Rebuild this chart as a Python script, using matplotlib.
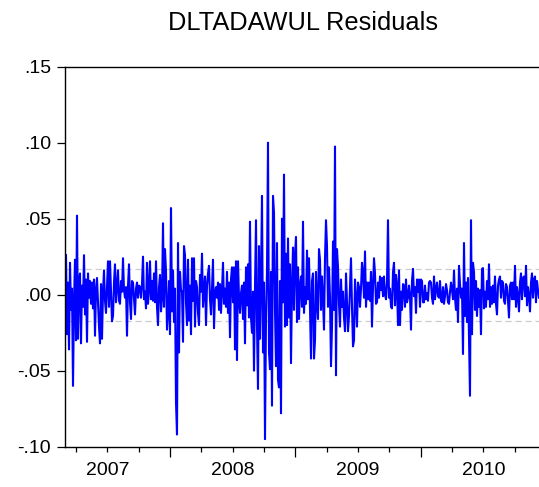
import numpy as np
import matplotlib
matplotlib.use("Agg")
import matplotlib.pyplot as plt

plt.rcParams["font.family"] = ["Liberation Sans", "DejaVu Sans"]

TITLE = "DLTADAWUL Residuals"

# residuals in percentage points, one observation per step of the time grid
resid_2007a = [
    2.6, -2.6, 0.8, -3.6, 2.1, -1.0, 0.4, -6.0, -0.5, 2.3,
    -3.0, 5.2, -2.9, 1.0, 1.4, -3.2, 0.6, -0.8, 2.6, -1.3,
    1.0, -3.1, 1.4, -0.2, 0.9, -0.6, 0.8, -0.9, 1.0, -2.7,
    0.3, 1.1, -0.5, -2.1, -3.2, 0.7, -2.9, 0.2, 1.6, -0.4,
    -1.2, 0.6, 2.2, -0.8, 2.2, 0.3, -1.75, -1.4, 0.8, 2.0,
    -0.5, 0.6, 1.6, -0.4, -0.6, 0.9, 0.2, 2.4, 0.3, -0.2,
    0.5, -2.7, 0.6, 2.0, -0.5, -1.6, 0.9, 0.8, -0.3, -1.3,
    0.4, 0.8, -0.2, 0.6, 0.5, -0.2, 0.7, 2.5, -0.3, 0.2,
]
resid_2007b = [
    -0.9, 2.1, -0.6, 0.4, 2.2, -0.3, 0.9, -0.4, 1.4, -0.5,
    2.2, -0.8, -2.0, 0.5, 1.3, -1.1, -0.2, 4.7, -0.8, 3.0,
    1.5, -2.3, -1.1, 0.9, -2.6, 5.7, -1.1, 1.6, -1.8, 0.4,
    -7.1, -9.2, 3.4, -3.8, 1.5, 0.3, 0.2, -3.1, 3.2, 2.6,
    -0.5, -2.0, 2.3, -1.7, 0.6, -2.6, 2.4, -0.4, 2.4, -2.1,
    0.9, 0.5, -1.2, -2.0, 1.3, 0.2, 2.7, -0.8, 0.3, 1.2,
    -2.0, 0.6, 1.4, 1.9, -0.3, -1.3, 0.4, 2.3, -2.2, 0.1,
    0.5, -0.2, 0.8, -1.0, 0.7, -1.2, 0.3, 2.1, -0.6, 0.4,
]
resid_2008 = [
    -0.8, 1.5, -1.2, 0.8, -2.8, 1.0, 1.8, -0.5, 1.8, -3.6,
    2.2, -4.3, 2.2, -0.2, -1.2, 0.1, 0.6, -1.6, 0.8, -3.2,
    1.8, -0.7, 2.0, -1.5, 4.8, -1.5, -2.5, 0.2, -5.0, 0.5,
    4.9, -2.0, -6.2, 3.2, -2.9, 1.0, 6.5, -3.8, 0.8, -9.5,
    -1.5, 1.5, 10.0, -3.8, -4.9, 1.5, -7.3, 6.5, 5.4, -1.0,
    -4.7, 3.4, -5.6, -6.1, 0.9, -7.8, 5.0, -0.5, 7.9, -2.1,
    2.7, -2.0, 3.7, -1.5, 2.0, -4.5, 0.5, 3.1, -1.0, 2.6,
    3.8, -1.8, 1.8, -1.6, 0.6, 1.2, -0.8, 4.8, -1.2, 0.5,
]
resid_2009 = [
    -0.6, 2.9, -0.3, 2.4, -0.8, -4.2, 0.9, 1.4, -4.2, -3.0,
    1.5, -0.5, -1.6, 3.0, 2.3, -1.0, 1.2, -0.3, -2.3, 2.4,
    4.9, 3.2, -0.8, 1.8, -0.2, -4.7, -2.1, 3.5, -1.0, 9.75,
    -5.3, 3.0, 1.8, -0.6, -2.1, 1.0, -0.8, 0.2, -1.5, -2.4,
    1.4, -0.4, -2.4, -1.4, 0.6, 2.4, -0.8, -3.4, -3.0, 1.0,
    -0.3, -2.1, 0.8, 0.5, -0.8, 0.4, 2.1, 1.4, -0.2, 2.85,
    -0.8, 0.8, -0.3, 0.8, -0.4, 1.5, -2.1, 0.5, 2.4, 1.4,
    -0.6, -0.5, 0.8, -0.2, 1.2, 0.3, 1.1, -0.1, 1.2, 0.0,
]
resid_2010a = [
    -0.3, 0.8, 4.9, -0.2, 0.4, -0.8, -0.9, 1.5, 2.1, -0.7,
    1.3, 0.6, -2.0, 1.6, -2.0, 0.2, -1.0, 0.7, 0.6, -0.8,
    1.0, -0.5, -0.2, 0.6, -0.1, -2.3, 0.9, 1.7, -0.1, 0.5,
    -1.2, 1.0, 0.2, 1.0, -0.8, 1.0, 0.9, -0.5, -0.5, 0.6,
    -0.3, 0.1, -0.4, 0.8, 0.9, 0.8, -0.2, -0.6, 1.2, -0.3,
    0.4, 0.8, -0.1, -0.2, 0.9, -0.4, -0.5, 0.5, -0.6, -0.1,
    0.7, 0.3, -0.5, -0.6, 0.2, 0.8, 0.3, -0.3, 1.6, -0.2,
    -1.0, 0.4, -1.8, 1.9, 0.7, -0.2, 0.4, -3.9, 3.4, -1.4,
]
resid_2010b = [
    0.8, -1.8, 1.1, -2.7, -6.65, 4.9, -2.6, 2.1, 1.5, -1.0,
    0.9, -1.4, 0.4, -0.8, 0.3, -2.6, 1.7, 1.75, -0.9, 0.2,
    -0.8, 0.9, -0.3, 2.0, -0.8, 0.5, -0.6, 0.6, -0.5, 1.2,
    -0.6, -1.3, 0.6, 1.0, 1.2, -0.2, 0.9, 0.8, -0.4, -0.6,
    0.7, 0.5, -0.4, -1.5, 0.6, 0.8, -0.3, 0.8, -0.3, 1.9,
    -0.8, 0.5, -0.1, -1.1, 0.8, 1.4, -0.3, 1.1, 1.2, -0.1,
    1.9, -0.7, 0.5, -0.1, -1.1, 0.8, 1.4, -0.2, 1.0, 1.2,
    -0.5, 0.9, 0.3, -0.2,
]

resid = np.array(resid_2007a + resid_2007b + resid_2008 + resid_2009
                 + resid_2010a + resid_2010b) / 100.0

# sample runs from early March 2007 to mid December 2010
t_start, t_end = 2007.17, 2010.944
t = np.linspace(t_start, t_end, len(resid))

years = [2007, 2008, 2009, 2010]
yticks = [0.15, 0.10, 0.05, 0.00, -0.05, -0.10]
ytick_labels = [".15", ".10", ".05", ".00", "-.05", "-.10"]
band = 0.0171

W, H = 539, 487
fig = plt.figure(figsize=(W / 100, H / 100), dpi=100)
ax = fig.add_axes([65 / W, (H - 446.7) / H, (541 - 65) / W, 380 / H])

ax.plot(t, resid, color="#0000ff", lw=1.5)
ax.axhline(band, color="#cccccc", lw=0.9, ls=(0, (5, 3)), zorder=0)
ax.axhline(-band, color="#cccccc", lw=0.9, ls=(0, (5, 3)), zorder=0)

ax.set_xlim(2007.162, 2010.96)
ax.set_ylim(-0.10, 0.15)

ax.set_yticks(yticks)
ax.set_yticklabels(ytick_labels)
ax.set_xticks([2008, 2009, 2010])
ax.set_xticklabels([])
ax.set_xticks([y + q for y in years for q in (0.25, 0.5, 0.75)
               if 2007.162 < y + q < 2010.96], minor=True)

ax.tick_params(axis="y", direction="out", length=6, width=0.9, pad=4,
               labelsize=14)
ax.tick_params(axis="x", which="major", direction="out", length=7.5, width=0.9)
ax.tick_params(axis="x", which="minor", direction="out", length=3.8, width=0.9)

for yr in years:
    ax.annotate(str(yr), xy=(yr + 0.5, 0), xycoords=("data", "axes fraction"),
                xytext=(0, -11), textcoords="offset points",
                ha="center", va="top", fontsize=14)

for side in ("left", "bottom", "top", "right"):
    ax.spines[side].set_linewidth(1.0)
    ax.spines[side].set_color("black")

fig.text(303 / W, 1 - 23 / H, TITLE, ha="center", va="center", fontsize=18.3)

fig.savefig("out.png", dpi=100)
